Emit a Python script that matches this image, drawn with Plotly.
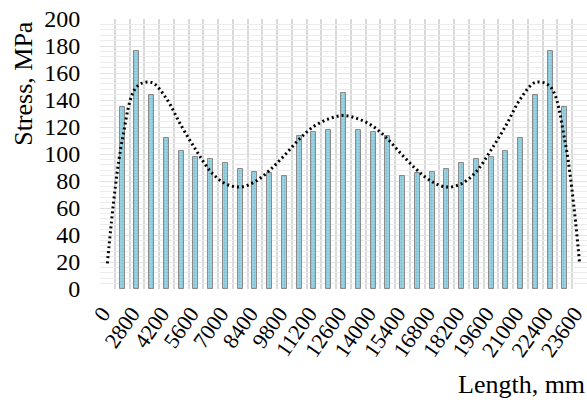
import plotly.graph_objects as go

# Category positions (index along the beam), tick labels shown on every 2nd category
positions = list(range(33))
tick_positions = list(range(0, 33, 2))
tick_labels = ["0", "2800", "4200", "5600", "7000", "8400", "9800", "11200", "12600",
               "14000", "15400", "16800", "18200", "19600", "21000", "22400", "23600"]

# Stress values (MPa) per category; first and last categories have no bar
stress = [None, 135, 176, 144, 112, 102, 98, 96, 93, 89, 87, 86, 84, 113, 116, 118,
          145, 118, 116, 113, 84, 86, 87, 89, 93, 96, 98, 102, 112, 144, 176, 135, None]

# Polynomial trendline read at each category
trend = [19, 110, 150, 153, 141, 121, 103, 87, 78, 75.5, 79.5, 88, 99, 111, 120.5, 126,
         128.5, 126, 120.5, 111, 99, 88, 79.5, 75.5, 78, 87, 103, 121, 141, 153, 150, 110, 19]

y_ticks = list(range(0, 201, 20))

FONT = "Liberation Serif"

fig = go.Figure()
fig.add_trace(go.Bar(
    x=positions, y=stress, width=0.34,
    marker=dict(color="#86c6d8", line=dict(color="#8a8a8a", width=1),
                pattern=dict(shape=".", fgcolor="#5aa9bf", bgcolor="#9dd3e2", size=3, solidity=0.3)),
    showlegend=False,
))
fig.add_trace(go.Scatter(
    x=positions, y=trend, mode="lines",
    line=dict(color="black", width=3, dash="2px,3px", shape="spline", smoothing=1.0),
    showlegend=False,
))

fig.update_layout(
    width=587, height=402, autosize=False,
    margin=dict(l=100, r=0, t=19, b=113, autoexpand=False),
    plot_bgcolor="white", paper_bgcolor="white",
    font=dict(family=FONT, color="black"),
    bargap=0,
)
fig.update_xaxes(
    range=[-0.5, 32.5], tickmode="array", tickvals=tick_positions, ticktext=tick_labels,
    tickangle=-55, tickfont=dict(size=22, family=FONT), showgrid=False, zeroline=False,
    ticks="outside", ticklen=2, tickcolor="rgba(0,0,0,0)", automargin=False,
    ticklabeloverflow="allow", ticklabelshift=-5,
    minor=dict(tickmode="linear", tick0=-0.5, dtick=1, showgrid=True,
               gridcolor="#d9d9d9", gridwidth=1.5, ticks=""),
    showline=False,
)
fig.update_yaxes(
    range=[0, 200], tickmode="array", tickvals=y_ticks, automargin=False,
    tickfont=dict(size=24, family=FONT), showgrid=True, gridcolor="#e3e3e3", gridwidth=1,
    zeroline=False, ticks="outside", ticklen=14, tickcolor="rgba(0,0,0,0)",
    ticklabeloverflow="allow",
    minor=dict(dtick=4, showgrid=True, gridcolor="#ececec", gridwidth=1, ticks=""),
)
fig.add_annotation(text="Stress, MPa", xref="paper", yref="paper", x=-0.156, y=0.76,
                   textangle=-90, showarrow=False, font=dict(size=26, family=FONT),
                   xanchor="center", yanchor="middle")
fig.add_annotation(text="Length, mm", xref="paper", yref="paper", x=1.0, y=-0.352,
                   showarrow=False, font=dict(size=26, family=FONT),
                   xanchor="right", yanchor="middle")

fig.write_html("out.html", config={"displayModeBar": False},
               post_script="document.body.style.margin='0';document.body.style.overflow='hidden';")
